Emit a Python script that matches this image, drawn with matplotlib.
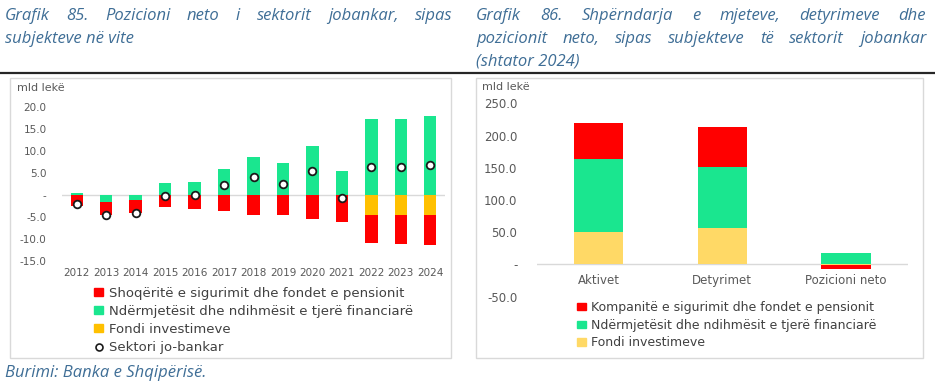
import matplotlib
matplotlib.use("Agg")
import matplotlib.pyplot as plt
from matplotlib.patches import Rectangle
from matplotlib.lines import Line2D
from matplotlib.ticker import FuncFormatter, MultipleLocator
from matplotlib.transforms import offset_copy
import numpy as np

# ---------------- data ----------------
years = ["2012", "2013", "2014", "2015", "2016", "2017", "2018", "2019",
         "2020", "2021", "2022", "2023", "2024"]
insurance = [-2.6, -2.95, -3.0, -2.9, -3.15, -3.7, -4.7, -4.6, -5.6, -6.2, -6.4, -6.5, -6.9]
intermediaries = [0.45, -1.65, -1.2, 2.55, 3.0, 5.8, 8.6, 7.1, 11.0, 5.3, 17.1, 17.3, 18.0]
inv_fund = [0, 0, 0, 0, 0, 0, 0, 0, 0, 0, -4.6, -4.6, -4.6]
nonbank = [-2.2, -4.5, -4.2, -0.3, -0.05, 2.2, 4.0, 2.5, 5.3, -0.75, 6.2, 6.2, 6.7]

cats2 = ["Aktivet", "Detyrimet", "Pozicioni neto"]
insurance2 = [56.0, 62.0, -5.5]
intermediaries2 = [113.0, 95.0, 18.5]
inv_fund2 = [51.0, 56.0, -1.5]

lbl1 = ["Shoqëritë e sigurimit dhe fondet e pensionit",
        "Ndërmjetësit dhe ndihmësit e tjerë financiarë",
        "Fondi investimeve", "Sektori jo-bankar"]
lbl2 = ["Kompanitë e sigurimit dhe fondet e pensionit",
        "Ndërmjetësit dhe ndihmësit e tjerë financiarë",
        "Fondi investimeve"]

RED = "#FF0000"
GREEN = "#1AE68F"
YEL1 = "#FFC000"
YEL2 = "#FFD966"
TCOL = "#595959"
TITLE = "#3F6E96"

W, H = 935, 386
fig = plt.figure(figsize=(W / 100, H / 100), dpi=100)
plt.rcParams['font.family'] = ['DejaVu Sans']


def fx(px):
    return px / W


def fy(py):
    return 1 - py / H


def stacked(ax, x, series, colors, width):
    pos = np.zeros(len(x))
    neg = np.zeros(len(x))
    for vals, c in zip(series, colors):
        v = np.array(vals, dtype=float)
        bottom = np.where(v >= 0, pos, neg)
        ax.bar(x, v, width, bottom=bottom, color=c, linewidth=0, zorder=2)
        pos = pos + np.where(v >= 0, v, 0)
        neg = neg + np.where(v < 0, v, 0)


def fmt(v, p):
    if abs(v) < 1e-9:
        return "-"
    return f"{v:.1f}"


# ---------------- left chart ----------------
ax1 = fig.add_axes([fx(62), fy(260.7), fx(445 - 62), (260.7 - 106.7) / H])
x1 = np.arange(len(years))
stacked(ax1, x1, [inv_fund, intermediaries, insurance], [YEL1, GREEN, RED], 0.42)
ax1.plot(x1, nonbank, linestyle="none", marker="o", markersize=5.5,
         markerfacecolor="white", markeredgecolor="#1a1a1a", markeredgewidth=1.3, zorder=3)
ax1.set_xlim(-0.5, len(years) - 0.5)
ax1.set_ylim(-15, 20)
ax1.yaxis.set_major_locator(MultipleLocator(5))
ax1.yaxis.set_major_formatter(FuncFormatter(fmt))
ax1.set_xticks(x1)
ax1.set_xticklabels(years)
ax1.axhline(0, color="#D9D9D9", linewidth=1, zorder=1)
for s in ax1.spines.values():
    s.set_visible(False)
ax1.tick_params(axis="y", length=0, pad=11, labelsize=7.5, labelcolor=TCOL)
ax1.tick_params(axis="x", length=0, pad=5, labelsize=7.5, labelcolor=TCOL)
fig.text(fx(17), fy(88), "mld lekë", fontsize=8, color=TCOL, va="center")

handles1 = [Rectangle((0, 0), 1, 1, color=RED), Rectangle((0, 0), 1, 1, color=GREEN),
            Rectangle((0, 0), 1, 1, color=YEL1),
            Line2D([], [], linestyle="none", marker="o", markersize=5,
                   markerfacecolor="white", markeredgecolor="#1a1a1a", markeredgewidth=1.2)]
fig.legend(handles1, lbl1, loc="upper left", bbox_to_anchor=(fx(94), fy(287)),
           frameon=False, fontsize=9.5, handlelength=0.7, handleheight=0.55,
           handletextpad=0.45, labelspacing=0.38, borderaxespad=0, borderpad=0,
           labelcolor="#404040")

# ---------------- right chart ----------------
ax2 = fig.add_axes([fx(536.7), fy(296.7), fx(908 - 536.7), (296.7 - 103.3) / H])
x2 = np.arange(len(cats2))
stacked(ax2, x2, [inv_fund2, intermediaries2, insurance2], [YEL2, GREEN, RED], 0.4)
ax2.set_xlim(-0.5, len(cats2) - 0.5)
ax2.set_ylim(-50, 250)
ax2.yaxis.set_major_locator(MultipleLocator(50))
ax2.yaxis.set_major_formatter(FuncFormatter(fmt))
ax2.set_xticks([])
ax2.axhline(0, color="#D9D9D9", linewidth=1, zorder=1)
for s in ax2.spines.values():
    s.set_visible(False)
ax2.tick_params(axis="y", length=0, pad=14, labelsize=8.5, labelcolor=TCOL)
tr = offset_copy(ax2.transData, fig=fig, x=0, y=-10, units="dots")
for i, c in enumerate(cats2):
    ax2.text(x2[i], 0, c, transform=tr, ha="center", va="top", fontsize=8.5, color=TCOL)
fig.text(fx(482), fy(87), "mld lekë", fontsize=8, color=TCOL, va="center")

handles2 = [Rectangle((0, 0), 1, 1, color=RED), Rectangle((0, 0), 1, 1, color=GREEN),
            Rectangle((0, 0), 1, 1, color=YEL2)]
fig.legend(handles2, lbl2, loc="upper left", bbox_to_anchor=(fx(577), fy(301)),
           frameon=False, fontsize=9, handlelength=0.7, handleheight=0.55,
           handletextpad=0.45, labelspacing=0.38, borderaxespad=0, borderpad=0,
           labelcolor="#404040")

# ---------------- frames, rule ----------------
fig.patches.append(Rectangle((fx(10), fy(358)), fx(441), (358 - 78) / H, transform=fig.transFigure,
                             fill=False, edgecolor="#D9D9D9", linewidth=1))
fig.patches.append(Rectangle((fx(476), fy(358)), fx(447), (358 - 78) / H, transform=fig.transFigure,
                             fill=False, edgecolor="#D9D9D9", linewidth=1))
fig.add_artist(Line2D([0, 1], [fy(73), fy(73)], transform=fig.transFigure,
                      color="#262626", linewidth=1.6))

# ---------------- titles ----------------
tkw = dict(fontsize=12, style="italic", color=TITLE, family="Open Sans", va="center")
renderer = fig.canvas.get_renderer()


def justified(x0, x1, y, text):
    words = text.split()
    objs = [fig.text(fx(x0), fy(y), w, **tkw) for w in words]
    widths = [o.get_window_extent(renderer=renderer).width for o in objs]
    gap = (x1 - x0 - sum(widths)) / (len(words) - 1)
    pos = x0
    for o, w in zip(objs, widths):
        o.set_x(fx(pos))
        pos += w + gap


justified(5, 452, 16, "Grafik 85. Pozicioni neto i sektorit jobankar, sipas")
fig.text(fx(5), fy(39), "subjekteve në vite", **tkw)
justified(476, 926, 16, "Grafik 86. Shpërndarja e mjeteve, detyrimeve dhe")
justified(476, 926, 39, "pozicionit neto, sipas subjekteve të sektorit jobankar")
fig.text(fx(476), fy(62), "(shtator 2024)", **tkw)
fig.text(fx(5), fy(373), "Burimi: Banka e Shqipërisë.", **tkw)

fig.savefig("out.png", dpi=100)
